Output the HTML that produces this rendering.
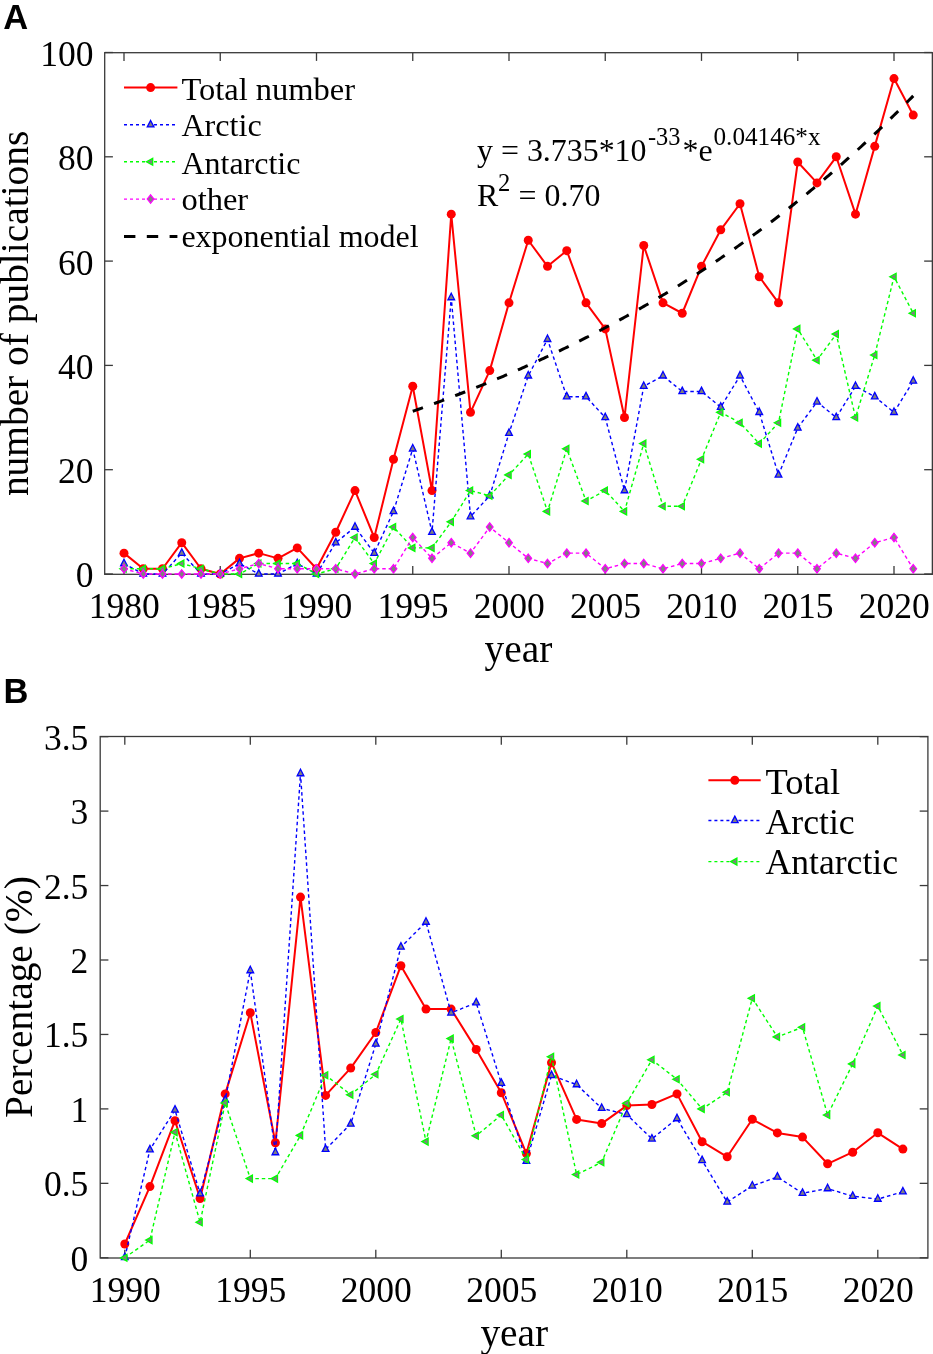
<!DOCTYPE html>
<html><head><meta charset="utf-8"><title>Polar publications</title>
<style>
html,body{margin:0;padding:0;background:#fff;}
body{width:933px;height:1354px;overflow:hidden;font-family:"Liberation Serif", serif;}
svg{display:block;will-change:transform;}
</style></head>
<body>
<svg width="933" height="1354" viewBox="0 0 933 1354">
<rect width="933" height="1354" fill="#fff"/>
<text x="3.2" y="28.8" font-family='"Liberation Sans", sans-serif' font-weight="bold" font-size="34.5" fill="#000">A</text>
<rect x="104.7" y="52.7" width="827.65" height="521.5999999999999" fill="none" stroke="#3a3a3a" stroke-width="1.3"/>
<line x1="124.00" y1="574.3" x2="124.00" y2="566.0999999999999" stroke="#3a3a3a" stroke-width="1.3"/>
<line x1="124.00" y1="52.7" x2="124.00" y2="60.900000000000006" stroke="#3a3a3a" stroke-width="1.3"/>
<text x="124.30" y="618.2" text-anchor="middle" font-family='"Liberation Serif", serif' font-size="35.5">1980</text>
<line x1="220.25" y1="574.3" x2="220.25" y2="566.0999999999999" stroke="#3a3a3a" stroke-width="1.3"/>
<line x1="220.25" y1="52.7" x2="220.25" y2="60.900000000000006" stroke="#3a3a3a" stroke-width="1.3"/>
<text x="220.55" y="618.2" text-anchor="middle" font-family='"Liberation Serif", serif' font-size="35.5">1985</text>
<line x1="316.50" y1="574.3" x2="316.50" y2="566.0999999999999" stroke="#3a3a3a" stroke-width="1.3"/>
<line x1="316.50" y1="52.7" x2="316.50" y2="60.900000000000006" stroke="#3a3a3a" stroke-width="1.3"/>
<text x="316.80" y="618.2" text-anchor="middle" font-family='"Liberation Serif", serif' font-size="35.5">1990</text>
<line x1="412.75" y1="574.3" x2="412.75" y2="566.0999999999999" stroke="#3a3a3a" stroke-width="1.3"/>
<line x1="412.75" y1="52.7" x2="412.75" y2="60.900000000000006" stroke="#3a3a3a" stroke-width="1.3"/>
<text x="413.05" y="618.2" text-anchor="middle" font-family='"Liberation Serif", serif' font-size="35.5">1995</text>
<line x1="509.00" y1="574.3" x2="509.00" y2="566.0999999999999" stroke="#3a3a3a" stroke-width="1.3"/>
<line x1="509.00" y1="52.7" x2="509.00" y2="60.900000000000006" stroke="#3a3a3a" stroke-width="1.3"/>
<text x="509.30" y="618.2" text-anchor="middle" font-family='"Liberation Serif", serif' font-size="35.5">2000</text>
<line x1="605.25" y1="574.3" x2="605.25" y2="566.0999999999999" stroke="#3a3a3a" stroke-width="1.3"/>
<line x1="605.25" y1="52.7" x2="605.25" y2="60.900000000000006" stroke="#3a3a3a" stroke-width="1.3"/>
<text x="605.55" y="618.2" text-anchor="middle" font-family='"Liberation Serif", serif' font-size="35.5">2005</text>
<line x1="701.50" y1="574.3" x2="701.50" y2="566.0999999999999" stroke="#3a3a3a" stroke-width="1.3"/>
<line x1="701.50" y1="52.7" x2="701.50" y2="60.900000000000006" stroke="#3a3a3a" stroke-width="1.3"/>
<text x="701.80" y="618.2" text-anchor="middle" font-family='"Liberation Serif", serif' font-size="35.5">2010</text>
<line x1="797.75" y1="574.3" x2="797.75" y2="566.0999999999999" stroke="#3a3a3a" stroke-width="1.3"/>
<line x1="797.75" y1="52.7" x2="797.75" y2="60.900000000000006" stroke="#3a3a3a" stroke-width="1.3"/>
<text x="798.05" y="618.2" text-anchor="middle" font-family='"Liberation Serif", serif' font-size="35.5">2015</text>
<line x1="894.00" y1="574.3" x2="894.00" y2="566.0999999999999" stroke="#3a3a3a" stroke-width="1.3"/>
<line x1="894.00" y1="52.7" x2="894.00" y2="60.900000000000006" stroke="#3a3a3a" stroke-width="1.3"/>
<text x="894.30" y="618.2" text-anchor="middle" font-family='"Liberation Serif", serif' font-size="35.5">2020</text>
<line x1="104.7" y1="574.00" x2="112.9" y2="574.00" stroke="#3a3a3a" stroke-width="1.3"/>
<line x1="932.35" y1="574.00" x2="924.15" y2="574.00" stroke="#3a3a3a" stroke-width="1.3"/>
<text x="93.5" y="587.40" text-anchor="end" font-family='"Liberation Serif", serif' font-size="35.5">0</text>
<line x1="104.7" y1="469.70" x2="112.9" y2="469.70" stroke="#3a3a3a" stroke-width="1.3"/>
<line x1="932.35" y1="469.70" x2="924.15" y2="469.70" stroke="#3a3a3a" stroke-width="1.3"/>
<text x="93.5" y="483.10" text-anchor="end" font-family='"Liberation Serif", serif' font-size="35.5">20</text>
<line x1="104.7" y1="365.40" x2="112.9" y2="365.40" stroke="#3a3a3a" stroke-width="1.3"/>
<line x1="932.35" y1="365.40" x2="924.15" y2="365.40" stroke="#3a3a3a" stroke-width="1.3"/>
<text x="93.5" y="378.80" text-anchor="end" font-family='"Liberation Serif", serif' font-size="35.5">40</text>
<line x1="104.7" y1="261.10" x2="112.9" y2="261.10" stroke="#3a3a3a" stroke-width="1.3"/>
<line x1="932.35" y1="261.10" x2="924.15" y2="261.10" stroke="#3a3a3a" stroke-width="1.3"/>
<text x="93.5" y="274.50" text-anchor="end" font-family='"Liberation Serif", serif' font-size="35.5">60</text>
<line x1="104.7" y1="156.80" x2="112.9" y2="156.80" stroke="#3a3a3a" stroke-width="1.3"/>
<line x1="932.35" y1="156.80" x2="924.15" y2="156.80" stroke="#3a3a3a" stroke-width="1.3"/>
<text x="93.5" y="170.20" text-anchor="end" font-family='"Liberation Serif", serif' font-size="35.5">80</text>
<line x1="104.7" y1="52.50" x2="112.9" y2="52.50" stroke="#3a3a3a" stroke-width="1.3"/>
<line x1="932.35" y1="52.50" x2="924.15" y2="52.50" stroke="#3a3a3a" stroke-width="1.3"/>
<text x="93.5" y="65.90" text-anchor="end" font-family='"Liberation Serif", serif' font-size="35.5">100</text>
<text x="518.5" y="662.3" text-anchor="middle" font-family='"Liberation Serif", serif' font-size="39.4">year</text>
<text transform="translate(28.0,313.4) rotate(-90)" text-anchor="middle" font-family='"Liberation Serif", serif' font-size="39.4">number of publications</text>
<polyline points="124.00,553.14 143.25,568.78 162.50,568.78 181.75,542.71 201.00,568.78 220.25,574.00 239.50,558.36 258.75,553.14 278.00,558.36 297.25,547.92 316.50,568.78 335.75,532.28 355.00,490.56 374.25,537.50 393.50,459.27 412.75,386.26 432.00,490.56 451.25,214.17 470.50,412.34 489.75,370.62 509.00,302.82 528.25,240.24 547.50,266.31 566.75,250.67 586.00,302.82 605.25,328.89 624.50,417.55 643.75,245.45 663.00,302.82 682.25,313.25 701.50,266.31 720.75,229.81 740.00,203.74 759.25,276.75 778.50,302.82 797.75,162.01 817.00,182.88 836.25,156.80 855.50,214.17 874.75,146.37 894.00,78.57 913.25,115.08" fill="none" stroke="#ff0000" stroke-width="2.0" stroke-linejoin="round"/>
<circle cx="124.00" cy="553.14" r="4.5" fill="#ff0000"/><circle cx="143.25" cy="568.78" r="4.5" fill="#ff0000"/><circle cx="162.50" cy="568.78" r="4.5" fill="#ff0000"/><circle cx="181.75" cy="542.71" r="4.5" fill="#ff0000"/><circle cx="201.00" cy="568.78" r="4.5" fill="#ff0000"/><circle cx="220.25" cy="574.00" r="4.5" fill="#ff0000"/><circle cx="239.50" cy="558.36" r="4.5" fill="#ff0000"/><circle cx="258.75" cy="553.14" r="4.5" fill="#ff0000"/><circle cx="278.00" cy="558.36" r="4.5" fill="#ff0000"/><circle cx="297.25" cy="547.92" r="4.5" fill="#ff0000"/><circle cx="316.50" cy="568.78" r="4.5" fill="#ff0000"/><circle cx="335.75" cy="532.28" r="4.5" fill="#ff0000"/><circle cx="355.00" cy="490.56" r="4.5" fill="#ff0000"/><circle cx="374.25" cy="537.50" r="4.5" fill="#ff0000"/><circle cx="393.50" cy="459.27" r="4.5" fill="#ff0000"/><circle cx="412.75" cy="386.26" r="4.5" fill="#ff0000"/><circle cx="432.00" cy="490.56" r="4.5" fill="#ff0000"/><circle cx="451.25" cy="214.17" r="4.5" fill="#ff0000"/><circle cx="470.50" cy="412.34" r="4.5" fill="#ff0000"/><circle cx="489.75" cy="370.62" r="4.5" fill="#ff0000"/><circle cx="509.00" cy="302.82" r="4.5" fill="#ff0000"/><circle cx="528.25" cy="240.24" r="4.5" fill="#ff0000"/><circle cx="547.50" cy="266.31" r="4.5" fill="#ff0000"/><circle cx="566.75" cy="250.67" r="4.5" fill="#ff0000"/><circle cx="586.00" cy="302.82" r="4.5" fill="#ff0000"/><circle cx="605.25" cy="328.89" r="4.5" fill="#ff0000"/><circle cx="624.50" cy="417.55" r="4.5" fill="#ff0000"/><circle cx="643.75" cy="245.45" r="4.5" fill="#ff0000"/><circle cx="663.00" cy="302.82" r="4.5" fill="#ff0000"/><circle cx="682.25" cy="313.25" r="4.5" fill="#ff0000"/><circle cx="701.50" cy="266.31" r="4.5" fill="#ff0000"/><circle cx="720.75" cy="229.81" r="4.5" fill="#ff0000"/><circle cx="740.00" cy="203.74" r="4.5" fill="#ff0000"/><circle cx="759.25" cy="276.75" r="4.5" fill="#ff0000"/><circle cx="778.50" cy="302.82" r="4.5" fill="#ff0000"/><circle cx="797.75" cy="162.01" r="4.5" fill="#ff0000"/><circle cx="817.00" cy="182.88" r="4.5" fill="#ff0000"/><circle cx="836.25" cy="156.80" r="4.5" fill="#ff0000"/><circle cx="855.50" cy="214.17" r="4.5" fill="#ff0000"/><circle cx="874.75" cy="146.37" r="4.5" fill="#ff0000"/><circle cx="894.00" cy="78.57" r="4.5" fill="#ff0000"/><circle cx="913.25" cy="115.08" r="4.5" fill="#ff0000"/>
<polyline points="124.00,563.57 143.25,574.00 162.50,574.00 181.75,553.14 201.00,574.00 220.25,574.00 239.50,563.57 258.75,574.00 278.00,574.00 297.25,563.57 316.50,574.00 335.75,542.71 355.00,527.07 374.25,553.14 393.50,511.42 412.75,448.84 432.00,532.28 451.25,297.61 470.50,516.63 489.75,495.77 509.00,433.19 528.25,375.83 547.50,339.33 566.75,396.69 586.00,396.69 605.25,417.55 624.50,490.56 643.75,386.26 663.00,375.83 682.25,391.48 701.50,391.48 720.75,407.12 740.00,375.83 759.25,412.34 778.50,474.92 797.75,427.98 817.00,401.90 836.25,417.55 855.50,386.26 874.75,396.69 894.00,412.34 913.25,381.05" fill="none" stroke="#0000ff" stroke-width="1.4" stroke-dasharray="3.5,2.9" stroke-linejoin="round"/>
<path d="M124.00,559.24 L127.35,565.74 L120.65,565.74 Z" fill="#808080" stroke="#0000ff" stroke-width="1.3" stroke-linejoin="miter"/><path d="M143.25,569.67 L146.60,576.17 L139.90,576.17 Z" fill="#808080" stroke="#0000ff" stroke-width="1.3" stroke-linejoin="miter"/><path d="M162.50,569.67 L165.85,576.17 L159.15,576.17 Z" fill="#808080" stroke="#0000ff" stroke-width="1.3" stroke-linejoin="miter"/><path d="M181.75,548.81 L185.10,555.31 L178.40,555.31 Z" fill="#808080" stroke="#0000ff" stroke-width="1.3" stroke-linejoin="miter"/><path d="M201.00,569.67 L204.35,576.17 L197.65,576.17 Z" fill="#808080" stroke="#0000ff" stroke-width="1.3" stroke-linejoin="miter"/><path d="M220.25,569.67 L223.60,576.17 L216.90,576.17 Z" fill="#808080" stroke="#0000ff" stroke-width="1.3" stroke-linejoin="miter"/><path d="M239.50,559.24 L242.85,565.74 L236.15,565.74 Z" fill="#808080" stroke="#0000ff" stroke-width="1.3" stroke-linejoin="miter"/><path d="M258.75,569.67 L262.10,576.17 L255.40,576.17 Z" fill="#808080" stroke="#0000ff" stroke-width="1.3" stroke-linejoin="miter"/><path d="M278.00,569.67 L281.35,576.17 L274.65,576.17 Z" fill="#808080" stroke="#0000ff" stroke-width="1.3" stroke-linejoin="miter"/><path d="M297.25,559.24 L300.60,565.74 L293.90,565.74 Z" fill="#808080" stroke="#0000ff" stroke-width="1.3" stroke-linejoin="miter"/><path d="M316.50,569.67 L319.85,576.17 L313.15,576.17 Z" fill="#808080" stroke="#0000ff" stroke-width="1.3" stroke-linejoin="miter"/><path d="M335.75,538.38 L339.10,544.88 L332.40,544.88 Z" fill="#808080" stroke="#0000ff" stroke-width="1.3" stroke-linejoin="miter"/><path d="M355.00,522.73 L358.35,529.23 L351.65,529.23 Z" fill="#808080" stroke="#0000ff" stroke-width="1.3" stroke-linejoin="miter"/><path d="M374.25,548.81 L377.60,555.31 L370.90,555.31 Z" fill="#808080" stroke="#0000ff" stroke-width="1.3" stroke-linejoin="miter"/><path d="M393.50,507.09 L396.85,513.59 L390.15,513.59 Z" fill="#808080" stroke="#0000ff" stroke-width="1.3" stroke-linejoin="miter"/><path d="M412.75,444.51 L416.10,451.01 L409.40,451.01 Z" fill="#808080" stroke="#0000ff" stroke-width="1.3" stroke-linejoin="miter"/><path d="M432.00,527.95 L435.35,534.45 L428.65,534.45 Z" fill="#808080" stroke="#0000ff" stroke-width="1.3" stroke-linejoin="miter"/><path d="M451.25,293.27 L454.60,299.77 L447.90,299.77 Z" fill="#808080" stroke="#0000ff" stroke-width="1.3" stroke-linejoin="miter"/><path d="M470.50,512.30 L473.85,518.80 L467.15,518.80 Z" fill="#808080" stroke="#0000ff" stroke-width="1.3" stroke-linejoin="miter"/><path d="M489.75,491.44 L493.10,497.94 L486.40,497.94 Z" fill="#808080" stroke="#0000ff" stroke-width="1.3" stroke-linejoin="miter"/><path d="M509.00,428.86 L512.35,435.36 L505.65,435.36 Z" fill="#808080" stroke="#0000ff" stroke-width="1.3" stroke-linejoin="miter"/><path d="M528.25,371.50 L531.60,378.00 L524.90,378.00 Z" fill="#808080" stroke="#0000ff" stroke-width="1.3" stroke-linejoin="miter"/><path d="M547.50,334.99 L550.85,341.49 L544.15,341.49 Z" fill="#808080" stroke="#0000ff" stroke-width="1.3" stroke-linejoin="miter"/><path d="M566.75,392.36 L570.10,398.86 L563.40,398.86 Z" fill="#808080" stroke="#0000ff" stroke-width="1.3" stroke-linejoin="miter"/><path d="M586.00,392.36 L589.35,398.86 L582.65,398.86 Z" fill="#808080" stroke="#0000ff" stroke-width="1.3" stroke-linejoin="miter"/><path d="M605.25,413.22 L608.60,419.72 L601.90,419.72 Z" fill="#808080" stroke="#0000ff" stroke-width="1.3" stroke-linejoin="miter"/><path d="M624.50,486.23 L627.85,492.73 L621.15,492.73 Z" fill="#808080" stroke="#0000ff" stroke-width="1.3" stroke-linejoin="miter"/><path d="M643.75,381.93 L647.10,388.43 L640.40,388.43 Z" fill="#808080" stroke="#0000ff" stroke-width="1.3" stroke-linejoin="miter"/><path d="M663.00,371.50 L666.35,378.00 L659.65,378.00 Z" fill="#808080" stroke="#0000ff" stroke-width="1.3" stroke-linejoin="miter"/><path d="M682.25,387.14 L685.60,393.64 L678.90,393.64 Z" fill="#808080" stroke="#0000ff" stroke-width="1.3" stroke-linejoin="miter"/><path d="M701.50,387.14 L704.85,393.64 L698.15,393.64 Z" fill="#808080" stroke="#0000ff" stroke-width="1.3" stroke-linejoin="miter"/><path d="M720.75,402.79 L724.10,409.29 L717.40,409.29 Z" fill="#808080" stroke="#0000ff" stroke-width="1.3" stroke-linejoin="miter"/><path d="M740.00,371.50 L743.35,378.00 L736.65,378.00 Z" fill="#808080" stroke="#0000ff" stroke-width="1.3" stroke-linejoin="miter"/><path d="M759.25,408.00 L762.60,414.50 L755.90,414.50 Z" fill="#808080" stroke="#0000ff" stroke-width="1.3" stroke-linejoin="miter"/><path d="M778.50,470.58 L781.85,477.08 L775.15,477.08 Z" fill="#808080" stroke="#0000ff" stroke-width="1.3" stroke-linejoin="miter"/><path d="M797.75,423.65 L801.10,430.15 L794.40,430.15 Z" fill="#808080" stroke="#0000ff" stroke-width="1.3" stroke-linejoin="miter"/><path d="M817.00,397.57 L820.35,404.07 L813.65,404.07 Z" fill="#808080" stroke="#0000ff" stroke-width="1.3" stroke-linejoin="miter"/><path d="M836.25,413.22 L839.60,419.72 L832.90,419.72 Z" fill="#808080" stroke="#0000ff" stroke-width="1.3" stroke-linejoin="miter"/><path d="M855.50,381.93 L858.85,388.43 L852.15,388.43 Z" fill="#808080" stroke="#0000ff" stroke-width="1.3" stroke-linejoin="miter"/><path d="M874.75,392.36 L878.10,398.86 L871.40,398.86 Z" fill="#808080" stroke="#0000ff" stroke-width="1.3" stroke-linejoin="miter"/><path d="M894.00,408.00 L897.35,414.50 L890.65,414.50 Z" fill="#808080" stroke="#0000ff" stroke-width="1.3" stroke-linejoin="miter"/><path d="M913.25,376.71 L916.60,383.21 L909.90,383.21 Z" fill="#808080" stroke="#0000ff" stroke-width="1.3" stroke-linejoin="miter"/>
<polyline points="124.00,568.78 143.25,568.78 162.50,568.78 181.75,563.57 201.00,568.78 220.25,574.00 239.50,574.00 258.75,563.57 278.00,563.57 297.25,563.57 316.50,574.00 335.75,568.78 355.00,537.50 374.25,563.57 393.50,527.07 412.75,547.92 432.00,547.92 451.25,521.85 470.50,490.56 489.75,495.77 509.00,474.92 528.25,454.06 547.50,511.42 566.75,448.84 586.00,500.99 605.25,490.56 624.50,511.42 643.75,443.62 663.00,506.20 682.25,506.20 701.50,459.27 720.75,412.34 740.00,422.76 759.25,443.62 778.50,422.76 797.75,328.89 817.00,360.19 836.25,334.11 855.50,417.55 874.75,354.97 894.00,276.75 913.25,313.25" fill="none" stroke="#00ff00" stroke-width="1.4" stroke-dasharray="3.5,2.9" stroke-linejoin="round"/>
<path d="M119.80,568.78 L126.10,565.33 L126.10,572.24 Z" fill="#808080" stroke="#00ff00" stroke-width="1.3" stroke-linejoin="miter"/><path d="M139.05,568.78 L145.35,565.33 L145.35,572.24 Z" fill="#808080" stroke="#00ff00" stroke-width="1.3" stroke-linejoin="miter"/><path d="M158.30,568.78 L164.60,565.33 L164.60,572.24 Z" fill="#808080" stroke="#00ff00" stroke-width="1.3" stroke-linejoin="miter"/><path d="M177.55,563.57 L183.85,560.12 L183.85,567.02 Z" fill="#808080" stroke="#00ff00" stroke-width="1.3" stroke-linejoin="miter"/><path d="M196.80,568.78 L203.10,565.33 L203.10,572.24 Z" fill="#808080" stroke="#00ff00" stroke-width="1.3" stroke-linejoin="miter"/><path d="M216.05,574.00 L222.35,570.55 L222.35,577.45 Z" fill="#808080" stroke="#00ff00" stroke-width="1.3" stroke-linejoin="miter"/><path d="M235.30,574.00 L241.60,570.55 L241.60,577.45 Z" fill="#808080" stroke="#00ff00" stroke-width="1.3" stroke-linejoin="miter"/><path d="M254.55,563.57 L260.85,560.12 L260.85,567.02 Z" fill="#808080" stroke="#00ff00" stroke-width="1.3" stroke-linejoin="miter"/><path d="M273.80,563.57 L280.10,560.12 L280.10,567.02 Z" fill="#808080" stroke="#00ff00" stroke-width="1.3" stroke-linejoin="miter"/><path d="M293.05,563.57 L299.35,560.12 L299.35,567.02 Z" fill="#808080" stroke="#00ff00" stroke-width="1.3" stroke-linejoin="miter"/><path d="M312.30,574.00 L318.60,570.55 L318.60,577.45 Z" fill="#808080" stroke="#00ff00" stroke-width="1.3" stroke-linejoin="miter"/><path d="M331.55,568.78 L337.85,565.33 L337.85,572.24 Z" fill="#808080" stroke="#00ff00" stroke-width="1.3" stroke-linejoin="miter"/><path d="M350.80,537.50 L357.10,534.04 L357.10,540.95 Z" fill="#808080" stroke="#00ff00" stroke-width="1.3" stroke-linejoin="miter"/><path d="M370.05,563.57 L376.35,560.12 L376.35,567.02 Z" fill="#808080" stroke="#00ff00" stroke-width="1.3" stroke-linejoin="miter"/><path d="M389.30,527.07 L395.60,523.62 L395.60,530.52 Z" fill="#808080" stroke="#00ff00" stroke-width="1.3" stroke-linejoin="miter"/><path d="M408.55,547.92 L414.85,544.47 L414.85,551.38 Z" fill="#808080" stroke="#00ff00" stroke-width="1.3" stroke-linejoin="miter"/><path d="M427.80,547.92 L434.10,544.47 L434.10,551.38 Z" fill="#808080" stroke="#00ff00" stroke-width="1.3" stroke-linejoin="miter"/><path d="M447.05,521.85 L453.35,518.40 L453.35,525.30 Z" fill="#808080" stroke="#00ff00" stroke-width="1.3" stroke-linejoin="miter"/><path d="M466.30,490.56 L472.60,487.11 L472.60,494.01 Z" fill="#808080" stroke="#00ff00" stroke-width="1.3" stroke-linejoin="miter"/><path d="M485.55,495.77 L491.85,492.32 L491.85,499.22 Z" fill="#808080" stroke="#00ff00" stroke-width="1.3" stroke-linejoin="miter"/><path d="M504.80,474.92 L511.10,471.47 L511.10,478.37 Z" fill="#808080" stroke="#00ff00" stroke-width="1.3" stroke-linejoin="miter"/><path d="M524.05,454.06 L530.35,450.61 L530.35,457.50 Z" fill="#808080" stroke="#00ff00" stroke-width="1.3" stroke-linejoin="miter"/><path d="M543.30,511.42 L549.60,507.97 L549.60,514.87 Z" fill="#808080" stroke="#00ff00" stroke-width="1.3" stroke-linejoin="miter"/><path d="M562.55,448.84 L568.85,445.39 L568.85,452.29 Z" fill="#808080" stroke="#00ff00" stroke-width="1.3" stroke-linejoin="miter"/><path d="M581.80,500.99 L588.10,497.54 L588.10,504.44 Z" fill="#808080" stroke="#00ff00" stroke-width="1.3" stroke-linejoin="miter"/><path d="M601.05,490.56 L607.35,487.11 L607.35,494.01 Z" fill="#808080" stroke="#00ff00" stroke-width="1.3" stroke-linejoin="miter"/><path d="M620.30,511.42 L626.60,507.97 L626.60,514.87 Z" fill="#808080" stroke="#00ff00" stroke-width="1.3" stroke-linejoin="miter"/><path d="M639.55,443.62 L645.85,440.18 L645.85,447.07 Z" fill="#808080" stroke="#00ff00" stroke-width="1.3" stroke-linejoin="miter"/><path d="M658.80,506.20 L665.10,502.75 L665.10,509.65 Z" fill="#808080" stroke="#00ff00" stroke-width="1.3" stroke-linejoin="miter"/><path d="M678.05,506.20 L684.35,502.75 L684.35,509.65 Z" fill="#808080" stroke="#00ff00" stroke-width="1.3" stroke-linejoin="miter"/><path d="M697.30,459.27 L703.60,455.82 L703.60,462.72 Z" fill="#808080" stroke="#00ff00" stroke-width="1.3" stroke-linejoin="miter"/><path d="M716.55,412.34 L722.85,408.89 L722.85,415.79 Z" fill="#808080" stroke="#00ff00" stroke-width="1.3" stroke-linejoin="miter"/><path d="M735.80,422.76 L742.10,419.31 L742.10,426.21 Z" fill="#808080" stroke="#00ff00" stroke-width="1.3" stroke-linejoin="miter"/><path d="M755.05,443.62 L761.35,440.18 L761.35,447.07 Z" fill="#808080" stroke="#00ff00" stroke-width="1.3" stroke-linejoin="miter"/><path d="M774.30,422.76 L780.60,419.31 L780.60,426.21 Z" fill="#808080" stroke="#00ff00" stroke-width="1.3" stroke-linejoin="miter"/><path d="M793.55,328.89 L799.85,325.44 L799.85,332.34 Z" fill="#808080" stroke="#00ff00" stroke-width="1.3" stroke-linejoin="miter"/><path d="M812.80,360.19 L819.10,356.74 L819.10,363.63 Z" fill="#808080" stroke="#00ff00" stroke-width="1.3" stroke-linejoin="miter"/><path d="M832.05,334.11 L838.35,330.66 L838.35,337.56 Z" fill="#808080" stroke="#00ff00" stroke-width="1.3" stroke-linejoin="miter"/><path d="M851.30,417.55 L857.60,414.10 L857.60,421.00 Z" fill="#808080" stroke="#00ff00" stroke-width="1.3" stroke-linejoin="miter"/><path d="M870.55,354.97 L876.85,351.52 L876.85,358.42 Z" fill="#808080" stroke="#00ff00" stroke-width="1.3" stroke-linejoin="miter"/><path d="M889.80,276.75 L896.10,273.30 L896.10,280.19 Z" fill="#808080" stroke="#00ff00" stroke-width="1.3" stroke-linejoin="miter"/><path d="M909.05,313.25 L915.35,309.80 L915.35,316.70 Z" fill="#808080" stroke="#00ff00" stroke-width="1.3" stroke-linejoin="miter"/>
<polyline points="124.00,568.78 143.25,574.00 162.50,574.00 181.75,574.00 201.00,574.00 220.25,574.00 239.50,568.78 258.75,563.57 278.00,568.78 297.25,568.78 316.50,568.78 335.75,568.78 355.00,574.00 374.25,568.78 393.50,568.78 412.75,537.50 432.00,558.36 451.25,542.71 470.50,553.14 489.75,527.07 509.00,542.71 528.25,558.36 547.50,563.57 566.75,553.14 586.00,553.14 605.25,568.78 624.50,563.57 643.75,563.57 663.00,568.78 682.25,563.57 701.50,563.57 720.75,558.36 740.00,553.14 759.25,568.78 778.50,553.14 797.75,553.14 817.00,568.78 836.25,553.14 855.50,558.36 874.75,542.71 894.00,537.50 913.25,568.78" fill="none" stroke="#ff00ff" stroke-width="1.4" stroke-dasharray="3.5,2.9" stroke-linejoin="round"/>
<path d="M124.00,564.58 L127.30,568.78 L124.00,572.99 L120.70,568.78 Z" fill="#808080" stroke="#ff00ff" stroke-width="1.3"/><path d="M143.25,569.80 L146.55,574.00 L143.25,578.20 L139.95,574.00 Z" fill="#808080" stroke="#ff00ff" stroke-width="1.3"/><path d="M162.50,569.80 L165.80,574.00 L162.50,578.20 L159.20,574.00 Z" fill="#808080" stroke="#ff00ff" stroke-width="1.3"/><path d="M181.75,569.80 L185.05,574.00 L181.75,578.20 L178.45,574.00 Z" fill="#808080" stroke="#ff00ff" stroke-width="1.3"/><path d="M201.00,569.80 L204.30,574.00 L201.00,578.20 L197.70,574.00 Z" fill="#808080" stroke="#ff00ff" stroke-width="1.3"/><path d="M220.25,569.80 L223.55,574.00 L220.25,578.20 L216.95,574.00 Z" fill="#808080" stroke="#ff00ff" stroke-width="1.3"/><path d="M239.50,564.58 L242.80,568.78 L239.50,572.99 L236.20,568.78 Z" fill="#808080" stroke="#ff00ff" stroke-width="1.3"/><path d="M258.75,559.37 L262.05,563.57 L258.75,567.77 L255.45,563.57 Z" fill="#808080" stroke="#ff00ff" stroke-width="1.3"/><path d="M278.00,564.58 L281.30,568.78 L278.00,572.99 L274.70,568.78 Z" fill="#808080" stroke="#ff00ff" stroke-width="1.3"/><path d="M297.25,564.58 L300.55,568.78 L297.25,572.99 L293.95,568.78 Z" fill="#808080" stroke="#ff00ff" stroke-width="1.3"/><path d="M316.50,564.58 L319.80,568.78 L316.50,572.99 L313.20,568.78 Z" fill="#808080" stroke="#ff00ff" stroke-width="1.3"/><path d="M335.75,564.58 L339.05,568.78 L335.75,572.99 L332.45,568.78 Z" fill="#808080" stroke="#ff00ff" stroke-width="1.3"/><path d="M355.00,569.80 L358.30,574.00 L355.00,578.20 L351.70,574.00 Z" fill="#808080" stroke="#ff00ff" stroke-width="1.3"/><path d="M374.25,564.58 L377.55,568.78 L374.25,572.99 L370.95,568.78 Z" fill="#808080" stroke="#ff00ff" stroke-width="1.3"/><path d="M393.50,564.58 L396.80,568.78 L393.50,572.99 L390.20,568.78 Z" fill="#808080" stroke="#ff00ff" stroke-width="1.3"/><path d="M412.75,533.29 L416.05,537.50 L412.75,541.70 L409.45,537.50 Z" fill="#808080" stroke="#ff00ff" stroke-width="1.3"/><path d="M432.00,554.15 L435.30,558.36 L432.00,562.56 L428.70,558.36 Z" fill="#808080" stroke="#ff00ff" stroke-width="1.3"/><path d="M451.25,538.51 L454.55,542.71 L451.25,546.91 L447.95,542.71 Z" fill="#808080" stroke="#ff00ff" stroke-width="1.3"/><path d="M470.50,548.94 L473.80,553.14 L470.50,557.34 L467.20,553.14 Z" fill="#808080" stroke="#ff00ff" stroke-width="1.3"/><path d="M489.75,522.87 L493.05,527.07 L489.75,531.27 L486.45,527.07 Z" fill="#808080" stroke="#ff00ff" stroke-width="1.3"/><path d="M509.00,538.51 L512.30,542.71 L509.00,546.91 L505.70,542.71 Z" fill="#808080" stroke="#ff00ff" stroke-width="1.3"/><path d="M528.25,554.15 L531.55,558.36 L528.25,562.56 L524.95,558.36 Z" fill="#808080" stroke="#ff00ff" stroke-width="1.3"/><path d="M547.50,559.37 L550.80,563.57 L547.50,567.77 L544.20,563.57 Z" fill="#808080" stroke="#ff00ff" stroke-width="1.3"/><path d="M566.75,548.94 L570.05,553.14 L566.75,557.34 L563.45,553.14 Z" fill="#808080" stroke="#ff00ff" stroke-width="1.3"/><path d="M586.00,548.94 L589.30,553.14 L586.00,557.34 L582.70,553.14 Z" fill="#808080" stroke="#ff00ff" stroke-width="1.3"/><path d="M605.25,564.58 L608.55,568.78 L605.25,572.99 L601.95,568.78 Z" fill="#808080" stroke="#ff00ff" stroke-width="1.3"/><path d="M624.50,559.37 L627.80,563.57 L624.50,567.77 L621.20,563.57 Z" fill="#808080" stroke="#ff00ff" stroke-width="1.3"/><path d="M643.75,559.37 L647.05,563.57 L643.75,567.77 L640.45,563.57 Z" fill="#808080" stroke="#ff00ff" stroke-width="1.3"/><path d="M663.00,564.58 L666.30,568.78 L663.00,572.99 L659.70,568.78 Z" fill="#808080" stroke="#ff00ff" stroke-width="1.3"/><path d="M682.25,559.37 L685.55,563.57 L682.25,567.77 L678.95,563.57 Z" fill="#808080" stroke="#ff00ff" stroke-width="1.3"/><path d="M701.50,559.37 L704.80,563.57 L701.50,567.77 L698.20,563.57 Z" fill="#808080" stroke="#ff00ff" stroke-width="1.3"/><path d="M720.75,554.15 L724.05,558.36 L720.75,562.56 L717.45,558.36 Z" fill="#808080" stroke="#ff00ff" stroke-width="1.3"/><path d="M740.00,548.94 L743.30,553.14 L740.00,557.34 L736.70,553.14 Z" fill="#808080" stroke="#ff00ff" stroke-width="1.3"/><path d="M759.25,564.58 L762.55,568.78 L759.25,572.99 L755.95,568.78 Z" fill="#808080" stroke="#ff00ff" stroke-width="1.3"/><path d="M778.50,548.94 L781.80,553.14 L778.50,557.34 L775.20,553.14 Z" fill="#808080" stroke="#ff00ff" stroke-width="1.3"/><path d="M797.75,548.94 L801.05,553.14 L797.75,557.34 L794.45,553.14 Z" fill="#808080" stroke="#ff00ff" stroke-width="1.3"/><path d="M817.00,564.58 L820.30,568.78 L817.00,572.99 L813.70,568.78 Z" fill="#808080" stroke="#ff00ff" stroke-width="1.3"/><path d="M836.25,548.94 L839.55,553.14 L836.25,557.34 L832.95,553.14 Z" fill="#808080" stroke="#ff00ff" stroke-width="1.3"/><path d="M855.50,554.15 L858.80,558.36 L855.50,562.56 L852.20,558.36 Z" fill="#808080" stroke="#ff00ff" stroke-width="1.3"/><path d="M874.75,538.51 L878.05,542.71 L874.75,546.91 L871.45,542.71 Z" fill="#808080" stroke="#ff00ff" stroke-width="1.3"/><path d="M894.00,533.29 L897.30,537.50 L894.00,541.70 L890.70,537.50 Z" fill="#808080" stroke="#ff00ff" stroke-width="1.3"/><path d="M913.25,564.58 L916.55,568.78 L913.25,572.99 L909.95,568.78 Z" fill="#808080" stroke="#ff00ff" stroke-width="1.3"/>
<polyline points="412.75,411.29 414.67,410.62 416.60,409.94 418.52,409.26 420.45,408.57 422.38,407.88 424.30,407.19 426.23,406.50 428.15,405.80 430.08,405.11 432.00,404.40 433.92,403.70 435.85,402.99 437.77,402.28 439.70,401.57 441.62,400.85 443.55,400.13 445.48,399.41 447.40,398.68 449.33,397.96 451.25,397.23 453.17,396.49 455.10,395.75 457.02,395.01 458.95,394.27 460.88,393.52 462.80,392.77 464.73,392.02 466.65,391.26 468.58,390.50 470.50,389.74 472.42,388.98 474.35,388.21 476.27,387.44 478.20,386.66 480.12,385.88 482.05,385.10 483.98,384.32 485.90,383.53 487.83,382.74 489.75,381.94 491.67,381.14 493.60,380.34 495.52,379.54 497.45,378.73 499.38,377.92 501.30,377.10 503.23,376.29 505.15,375.47 507.08,374.64 509.00,373.81 510.92,372.98 512.85,372.15 514.77,371.31 516.70,370.46 518.62,369.62 520.55,368.77 522.48,367.92 524.40,367.06 526.33,366.20 528.25,365.34 530.17,364.47 532.10,363.60 534.02,362.73 535.95,361.85 537.88,360.97 539.80,360.08 541.73,359.19 543.65,358.30 545.58,357.40 547.50,356.50 549.42,355.60 551.35,354.69 553.27,353.78 555.20,352.87 557.12,351.95 559.05,351.03 560.98,350.10 562.90,349.17 564.83,348.24 566.75,347.30 568.67,346.36 570.60,345.41 572.52,344.46 574.45,343.51 576.38,342.55 578.30,341.59 580.23,340.62 582.15,339.65 584.08,338.68 586.00,337.70 587.92,336.72 589.85,335.73 591.77,334.74 593.70,333.75 595.62,332.75 597.55,331.75 599.48,330.74 601.40,329.73 603.33,328.72 605.25,327.70 607.17,326.68 609.10,325.65 611.02,324.62 612.95,323.58 614.88,322.54 616.80,321.49 618.73,320.45 620.65,319.39 622.58,318.33 624.50,317.27 626.42,316.21 628.35,315.13 630.27,314.06 632.20,312.98 634.12,311.89 636.05,310.81 637.98,309.71 639.90,308.61 641.83,307.51 643.75,306.40 645.67,305.29 647.60,304.18 649.52,303.06 651.45,301.93 653.38,300.80 655.30,299.66 657.23,298.52 659.15,297.38 661.08,296.23 663.00,295.08 664.92,293.92 666.85,292.75 668.77,291.59 670.70,290.41 672.62,289.23 674.55,288.05 676.48,286.86 678.40,285.67 680.33,284.47 682.25,283.27 684.17,282.06 686.10,280.85 688.02,279.63 689.95,278.41 691.88,277.18 693.80,275.95 695.73,274.71 697.65,273.46 699.58,272.22 701.50,270.96 703.42,269.70 705.35,268.44 707.27,267.17 709.20,265.89 711.12,264.61 713.05,263.33 714.98,262.04 716.90,260.74 718.83,259.44 720.75,258.13 722.67,256.82 724.60,255.50 726.52,254.18 728.45,252.85 730.38,251.52 732.30,250.18 734.23,248.83 736.15,247.48 738.08,246.13 740.00,244.76 741.92,243.40 743.85,242.02 745.77,240.64 747.70,239.26 749.62,237.87 751.55,236.47 753.48,235.07 755.40,233.66 757.33,232.25 759.25,230.83 761.17,229.40 763.10,227.97 765.02,226.53 766.95,225.09 768.88,223.64 770.80,222.18 772.73,220.72 774.65,219.25 776.58,217.78 778.50,216.30 780.42,214.81 782.35,213.32 784.27,211.82 786.20,210.32 788.12,208.81 790.05,207.29 791.98,205.77 793.90,204.24 795.83,202.70 797.75,201.16 799.67,199.61 801.60,198.05 803.52,196.49 805.45,194.92 807.38,193.35 809.30,191.77 811.23,190.18 813.15,188.58 815.08,186.98 817.00,185.37 818.92,183.76 820.85,182.14 822.77,180.51 824.70,178.88 826.62,177.23 828.55,175.59 830.48,173.93 832.40,172.27 834.33,170.60 836.25,168.92 838.17,167.24 840.10,165.55 842.02,163.85 843.95,162.15 845.88,160.44 847.80,158.72 849.73,156.99 851.65,155.26 853.58,153.52 855.50,151.78 857.42,150.02 859.35,148.26 861.27,146.49 863.20,144.71 865.12,142.93 867.05,141.14 868.98,139.34 870.90,137.54 872.83,135.72 874.75,133.90 876.67,132.07 878.60,130.24 880.52,128.39 882.45,126.54 884.38,124.68 886.30,122.82 888.23,120.94 890.15,119.06 892.08,117.17 894.00,115.27 895.92,113.37 897.85,111.45 899.77,109.53 901.70,107.60 903.62,105.66 905.55,103.72 907.48,101.76 909.40,99.80 911.33,97.83 913.25,95.85" fill="none" stroke="#000" stroke-width="3.0" stroke-dasharray="10.8,11.8" stroke-linejoin="round"/>
<line x1="124.0" y1="87.6" x2="177.4" y2="87.6" stroke="#ff0000" stroke-width="2"/><circle cx="150.60" cy="87.60" r="4.5" fill="#ff0000"/>
<line x1="124.0" y1="124.8" x2="177.4" y2="124.8" stroke="#0000ff" stroke-width="1.4" stroke-dasharray="3.0,3.0"/><path d="M150.60,120.47 L153.95,126.97 L147.25,126.97 Z" fill="#808080" stroke="#0000ff" stroke-width="1.3" stroke-linejoin="miter"/>
<line x1="124.0" y1="161.8" x2="177.4" y2="161.8" stroke="#00ff00" stroke-width="1.4" stroke-dasharray="3.0,3.0"/><path d="M146.40,161.80 L152.70,158.35 L152.70,165.25 Z" fill="#808080" stroke="#00ff00" stroke-width="1.3" stroke-linejoin="miter"/>
<line x1="124.0" y1="199.1" x2="177.4" y2="199.1" stroke="#ff00ff" stroke-width="1.4" stroke-dasharray="3.0,3.0"/><path d="M150.60,194.90 L153.90,199.10 L150.60,203.30 L147.30,199.10 Z" fill="#808080" stroke="#ff00ff" stroke-width="1.3"/>
<line x1="124.0" y1="236.4" x2="177.4" y2="236.4" stroke="#000" stroke-width="3" stroke-dasharray="11.4,11.4"/>
<text x="181.4" y="99.50" font-family='"Liberation Serif", serif' font-size="32.5">Total number</text>
<text x="181.4" y="136.40" font-family='"Liberation Serif", serif' font-size="32.15">Arctic</text>
<text x="181.4" y="173.60" font-family='"Liberation Serif", serif' font-size="32.0">Antarctic</text>
<text x="181.4" y="210.30" font-family='"Liberation Serif", serif' font-size="32.5">other</text>
<text x="181.4" y="247.20" font-family='"Liberation Serif", serif' font-size="32.0">exponential model</text>
<text x="477" y="160.8" font-family='"Liberation Serif", serif' font-size="31.9">y = 3.735*10</text>
<text x="648" y="144.6" font-family='"Liberation Serif", serif' font-size="24.4">-33</text>
<text x="682.5" y="160.8" font-family='"Liberation Serif", serif' font-size="31.9">*e</text>
<text x="713.5" y="144.6" font-family='"Liberation Serif", serif' font-size="25.2">0.04146*x</text>
<text x="477" y="206.4" font-family='"Liberation Serif", serif' font-size="31.9">R</text>
<text x="498" y="191.4" font-family='"Liberation Serif", serif' font-size="24.6">2</text>
<text x="518.6" y="206.4" font-family='"Liberation Serif", serif' font-size="31.9">= 0.70</text>
<text x="3.4" y="703.2" font-family='"Liberation Sans", sans-serif' font-weight="bold" font-size="34.5" fill="#000">B</text>
<rect x="100.2" y="736.5" width="827.6999999999999" height="521.5" fill="none" stroke="#3a3a3a" stroke-width="1.3"/>
<line x1="124.80" y1="1258.0" x2="124.80" y2="1249.8" stroke="#3a3a3a" stroke-width="1.3"/>
<line x1="124.80" y1="736.5" x2="124.80" y2="744.7" stroke="#3a3a3a" stroke-width="1.3"/>
<text x="125.30" y="1302.2" text-anchor="middle" font-family='"Liberation Serif", serif' font-size="35.5">1990</text>
<line x1="250.30" y1="1258.0" x2="250.30" y2="1249.8" stroke="#3a3a3a" stroke-width="1.3"/>
<line x1="250.30" y1="736.5" x2="250.30" y2="744.7" stroke="#3a3a3a" stroke-width="1.3"/>
<text x="250.80" y="1302.2" text-anchor="middle" font-family='"Liberation Serif", serif' font-size="35.5">1995</text>
<line x1="375.80" y1="1258.0" x2="375.80" y2="1249.8" stroke="#3a3a3a" stroke-width="1.3"/>
<line x1="375.80" y1="736.5" x2="375.80" y2="744.7" stroke="#3a3a3a" stroke-width="1.3"/>
<text x="376.30" y="1302.2" text-anchor="middle" font-family='"Liberation Serif", serif' font-size="35.5">2000</text>
<line x1="501.30" y1="1258.0" x2="501.30" y2="1249.8" stroke="#3a3a3a" stroke-width="1.3"/>
<line x1="501.30" y1="736.5" x2="501.30" y2="744.7" stroke="#3a3a3a" stroke-width="1.3"/>
<text x="501.80" y="1302.2" text-anchor="middle" font-family='"Liberation Serif", serif' font-size="35.5">2005</text>
<line x1="626.80" y1="1258.0" x2="626.80" y2="1249.8" stroke="#3a3a3a" stroke-width="1.3"/>
<line x1="626.80" y1="736.5" x2="626.80" y2="744.7" stroke="#3a3a3a" stroke-width="1.3"/>
<text x="627.30" y="1302.2" text-anchor="middle" font-family='"Liberation Serif", serif' font-size="35.5">2010</text>
<line x1="752.30" y1="1258.0" x2="752.30" y2="1249.8" stroke="#3a3a3a" stroke-width="1.3"/>
<line x1="752.30" y1="736.5" x2="752.30" y2="744.7" stroke="#3a3a3a" stroke-width="1.3"/>
<text x="752.80" y="1302.2" text-anchor="middle" font-family='"Liberation Serif", serif' font-size="35.5">2015</text>
<line x1="877.80" y1="1258.0" x2="877.80" y2="1249.8" stroke="#3a3a3a" stroke-width="1.3"/>
<line x1="877.80" y1="736.5" x2="877.80" y2="744.7" stroke="#3a3a3a" stroke-width="1.3"/>
<text x="878.30" y="1302.2" text-anchor="middle" font-family='"Liberation Serif", serif' font-size="35.5">2020</text>
<line x1="100.2" y1="1257.80" x2="108.4" y2="1257.80" stroke="#3a3a3a" stroke-width="1.3"/>
<line x1="927.9" y1="1257.80" x2="919.6999999999999" y2="1257.80" stroke="#3a3a3a" stroke-width="1.3"/>
<text x="88.3" y="1270.80" text-anchor="end" font-family='"Liberation Serif", serif' font-size="35.5">0</text>
<line x1="100.2" y1="1183.35" x2="108.4" y2="1183.35" stroke="#3a3a3a" stroke-width="1.3"/>
<line x1="927.9" y1="1183.35" x2="919.6999999999999" y2="1183.35" stroke="#3a3a3a" stroke-width="1.3"/>
<text x="88.3" y="1196.35" text-anchor="end" font-family='"Liberation Serif", serif' font-size="35.5">0.5</text>
<line x1="100.2" y1="1108.90" x2="108.4" y2="1108.90" stroke="#3a3a3a" stroke-width="1.3"/>
<line x1="927.9" y1="1108.90" x2="919.6999999999999" y2="1108.90" stroke="#3a3a3a" stroke-width="1.3"/>
<text x="88.3" y="1121.90" text-anchor="end" font-family='"Liberation Serif", serif' font-size="35.5">1</text>
<line x1="100.2" y1="1034.45" x2="108.4" y2="1034.45" stroke="#3a3a3a" stroke-width="1.3"/>
<line x1="927.9" y1="1034.45" x2="919.6999999999999" y2="1034.45" stroke="#3a3a3a" stroke-width="1.3"/>
<text x="88.3" y="1047.45" text-anchor="end" font-family='"Liberation Serif", serif' font-size="35.5">1.5</text>
<line x1="100.2" y1="960.00" x2="108.4" y2="960.00" stroke="#3a3a3a" stroke-width="1.3"/>
<line x1="927.9" y1="960.00" x2="919.6999999999999" y2="960.00" stroke="#3a3a3a" stroke-width="1.3"/>
<text x="88.3" y="973.00" text-anchor="end" font-family='"Liberation Serif", serif' font-size="35.5">2</text>
<line x1="100.2" y1="885.55" x2="108.4" y2="885.55" stroke="#3a3a3a" stroke-width="1.3"/>
<line x1="927.9" y1="885.55" x2="919.6999999999999" y2="885.55" stroke="#3a3a3a" stroke-width="1.3"/>
<text x="88.3" y="898.55" text-anchor="end" font-family='"Liberation Serif", serif' font-size="35.5">2.5</text>
<line x1="100.2" y1="811.10" x2="108.4" y2="811.10" stroke="#3a3a3a" stroke-width="1.3"/>
<line x1="927.9" y1="811.10" x2="919.6999999999999" y2="811.10" stroke="#3a3a3a" stroke-width="1.3"/>
<text x="88.3" y="824.10" text-anchor="end" font-family='"Liberation Serif", serif' font-size="35.5">3</text>
<line x1="100.2" y1="736.65" x2="108.4" y2="736.65" stroke="#3a3a3a" stroke-width="1.3"/>
<line x1="927.9" y1="736.65" x2="919.6999999999999" y2="736.65" stroke="#3a3a3a" stroke-width="1.3"/>
<text x="88.3" y="749.65" text-anchor="end" font-family='"Liberation Serif", serif' font-size="35.5">3.5</text>
<text x="514.3" y="1345.8" text-anchor="middle" font-family='"Liberation Serif", serif' font-size="39.4">year</text>
<text transform="translate(32.2,997.1) rotate(-90)" text-anchor="middle" font-family='"Liberation Serif", serif' font-size="39.4">Percentage (%)</text>
<polyline points="124.80,1244.00 149.90,1186.60 175.00,1120.70 200.10,1198.50 225.20,1093.90 250.30,1012.80 275.40,1142.80 300.50,897.10 325.60,1095.40 350.70,1068.10 375.80,1032.50 400.90,965.70 426.00,1009.10 451.10,1009.10 476.20,1049.40 501.30,1092.70 526.40,1153.60 551.50,1062.70 576.60,1119.40 601.70,1123.60 626.80,1105.60 651.90,1104.50 677.00,1093.90 702.10,1141.70 727.20,1156.80 752.30,1119.30 777.40,1132.90 802.50,1137.10 827.60,1163.80 852.70,1152.20 877.80,1132.80 902.90,1149.10" fill="none" stroke="#ff0000" stroke-width="2.0" stroke-linejoin="round"/>
<circle cx="124.80" cy="1244.00" r="4.5" fill="#ff0000"/><circle cx="149.90" cy="1186.60" r="4.5" fill="#ff0000"/><circle cx="175.00" cy="1120.70" r="4.5" fill="#ff0000"/><circle cx="200.10" cy="1198.50" r="4.5" fill="#ff0000"/><circle cx="225.20" cy="1093.90" r="4.5" fill="#ff0000"/><circle cx="250.30" cy="1012.80" r="4.5" fill="#ff0000"/><circle cx="275.40" cy="1142.80" r="4.5" fill="#ff0000"/><circle cx="300.50" cy="897.10" r="4.5" fill="#ff0000"/><circle cx="325.60" cy="1095.40" r="4.5" fill="#ff0000"/><circle cx="350.70" cy="1068.10" r="4.5" fill="#ff0000"/><circle cx="375.80" cy="1032.50" r="4.5" fill="#ff0000"/><circle cx="400.90" cy="965.70" r="4.5" fill="#ff0000"/><circle cx="426.00" cy="1009.10" r="4.5" fill="#ff0000"/><circle cx="451.10" cy="1009.10" r="4.5" fill="#ff0000"/><circle cx="476.20" cy="1049.40" r="4.5" fill="#ff0000"/><circle cx="501.30" cy="1092.70" r="4.5" fill="#ff0000"/><circle cx="526.40" cy="1153.60" r="4.5" fill="#ff0000"/><circle cx="551.50" cy="1062.70" r="4.5" fill="#ff0000"/><circle cx="576.60" cy="1119.40" r="4.5" fill="#ff0000"/><circle cx="601.70" cy="1123.60" r="4.5" fill="#ff0000"/><circle cx="626.80" cy="1105.60" r="4.5" fill="#ff0000"/><circle cx="651.90" cy="1104.50" r="4.5" fill="#ff0000"/><circle cx="677.00" cy="1093.90" r="4.5" fill="#ff0000"/><circle cx="702.10" cy="1141.70" r="4.5" fill="#ff0000"/><circle cx="727.20" cy="1156.80" r="4.5" fill="#ff0000"/><circle cx="752.30" cy="1119.30" r="4.5" fill="#ff0000"/><circle cx="777.40" cy="1132.90" r="4.5" fill="#ff0000"/><circle cx="802.50" cy="1137.10" r="4.5" fill="#ff0000"/><circle cx="827.60" cy="1163.80" r="4.5" fill="#ff0000"/><circle cx="852.70" cy="1152.20" r="4.5" fill="#ff0000"/><circle cx="877.80" cy="1132.80" r="4.5" fill="#ff0000"/><circle cx="902.90" cy="1149.10" r="4.5" fill="#ff0000"/>
<polyline points="124.80,1257.50 149.90,1149.70 175.00,1110.00 200.10,1193.70 225.20,1100.00 250.30,970.60 275.40,1152.60 300.50,773.60 325.60,1149.30 350.70,1124.00 375.80,1044.00 400.90,947.00 426.00,922.10 451.10,1012.90 476.20,1002.70 501.30,1083.20 526.40,1161.20 551.50,1075.50 576.60,1084.60 601.70,1108.30 626.80,1114.50 651.90,1138.90 677.00,1118.60 702.10,1160.50 727.20,1202.00 752.30,1185.90 777.40,1177.00 802.50,1193.20 827.60,1188.60 852.70,1196.20 877.80,1199.10 902.90,1191.80" fill="none" stroke="#0000ff" stroke-width="1.4" stroke-dasharray="3.5,2.9" stroke-linejoin="round"/>
<path d="M124.80,1253.17 L128.15,1259.67 L121.45,1259.67 Z" fill="#808080" stroke="#0000ff" stroke-width="1.3" stroke-linejoin="miter"/><path d="M149.90,1145.37 L153.25,1151.87 L146.55,1151.87 Z" fill="#808080" stroke="#0000ff" stroke-width="1.3" stroke-linejoin="miter"/><path d="M175.00,1105.67 L178.35,1112.17 L171.65,1112.17 Z" fill="#808080" stroke="#0000ff" stroke-width="1.3" stroke-linejoin="miter"/><path d="M200.10,1189.37 L203.45,1195.87 L196.75,1195.87 Z" fill="#808080" stroke="#0000ff" stroke-width="1.3" stroke-linejoin="miter"/><path d="M225.20,1095.67 L228.55,1102.17 L221.85,1102.17 Z" fill="#808080" stroke="#0000ff" stroke-width="1.3" stroke-linejoin="miter"/><path d="M250.30,966.27 L253.65,972.77 L246.95,972.77 Z" fill="#808080" stroke="#0000ff" stroke-width="1.3" stroke-linejoin="miter"/><path d="M275.40,1148.27 L278.75,1154.77 L272.05,1154.77 Z" fill="#808080" stroke="#0000ff" stroke-width="1.3" stroke-linejoin="miter"/><path d="M300.50,769.27 L303.85,775.77 L297.15,775.77 Z" fill="#808080" stroke="#0000ff" stroke-width="1.3" stroke-linejoin="miter"/><path d="M325.60,1144.97 L328.95,1151.47 L322.25,1151.47 Z" fill="#808080" stroke="#0000ff" stroke-width="1.3" stroke-linejoin="miter"/><path d="M350.70,1119.67 L354.05,1126.17 L347.35,1126.17 Z" fill="#808080" stroke="#0000ff" stroke-width="1.3" stroke-linejoin="miter"/><path d="M375.80,1039.67 L379.15,1046.17 L372.45,1046.17 Z" fill="#808080" stroke="#0000ff" stroke-width="1.3" stroke-linejoin="miter"/><path d="M400.90,942.67 L404.25,949.17 L397.55,949.17 Z" fill="#808080" stroke="#0000ff" stroke-width="1.3" stroke-linejoin="miter"/><path d="M426.00,917.77 L429.35,924.27 L422.65,924.27 Z" fill="#808080" stroke="#0000ff" stroke-width="1.3" stroke-linejoin="miter"/><path d="M451.10,1008.57 L454.45,1015.07 L447.75,1015.07 Z" fill="#808080" stroke="#0000ff" stroke-width="1.3" stroke-linejoin="miter"/><path d="M476.20,998.37 L479.55,1004.87 L472.85,1004.87 Z" fill="#808080" stroke="#0000ff" stroke-width="1.3" stroke-linejoin="miter"/><path d="M501.30,1078.87 L504.65,1085.37 L497.95,1085.37 Z" fill="#808080" stroke="#0000ff" stroke-width="1.3" stroke-linejoin="miter"/><path d="M526.40,1156.87 L529.75,1163.37 L523.05,1163.37 Z" fill="#808080" stroke="#0000ff" stroke-width="1.3" stroke-linejoin="miter"/><path d="M551.50,1071.17 L554.85,1077.67 L548.15,1077.67 Z" fill="#808080" stroke="#0000ff" stroke-width="1.3" stroke-linejoin="miter"/><path d="M576.60,1080.27 L579.95,1086.77 L573.25,1086.77 Z" fill="#808080" stroke="#0000ff" stroke-width="1.3" stroke-linejoin="miter"/><path d="M601.70,1103.97 L605.05,1110.47 L598.35,1110.47 Z" fill="#808080" stroke="#0000ff" stroke-width="1.3" stroke-linejoin="miter"/><path d="M626.80,1110.17 L630.15,1116.67 L623.45,1116.67 Z" fill="#808080" stroke="#0000ff" stroke-width="1.3" stroke-linejoin="miter"/><path d="M651.90,1134.57 L655.25,1141.07 L648.55,1141.07 Z" fill="#808080" stroke="#0000ff" stroke-width="1.3" stroke-linejoin="miter"/><path d="M677.00,1114.27 L680.35,1120.77 L673.65,1120.77 Z" fill="#808080" stroke="#0000ff" stroke-width="1.3" stroke-linejoin="miter"/><path d="M702.10,1156.17 L705.45,1162.67 L698.75,1162.67 Z" fill="#808080" stroke="#0000ff" stroke-width="1.3" stroke-linejoin="miter"/><path d="M727.20,1197.67 L730.55,1204.17 L723.85,1204.17 Z" fill="#808080" stroke="#0000ff" stroke-width="1.3" stroke-linejoin="miter"/><path d="M752.30,1181.57 L755.65,1188.07 L748.95,1188.07 Z" fill="#808080" stroke="#0000ff" stroke-width="1.3" stroke-linejoin="miter"/><path d="M777.40,1172.67 L780.75,1179.17 L774.05,1179.17 Z" fill="#808080" stroke="#0000ff" stroke-width="1.3" stroke-linejoin="miter"/><path d="M802.50,1188.87 L805.85,1195.37 L799.15,1195.37 Z" fill="#808080" stroke="#0000ff" stroke-width="1.3" stroke-linejoin="miter"/><path d="M827.60,1184.27 L830.95,1190.77 L824.25,1190.77 Z" fill="#808080" stroke="#0000ff" stroke-width="1.3" stroke-linejoin="miter"/><path d="M852.70,1191.87 L856.05,1198.37 L849.35,1198.37 Z" fill="#808080" stroke="#0000ff" stroke-width="1.3" stroke-linejoin="miter"/><path d="M877.80,1194.77 L881.15,1201.27 L874.45,1201.27 Z" fill="#808080" stroke="#0000ff" stroke-width="1.3" stroke-linejoin="miter"/><path d="M902.90,1187.47 L906.25,1193.97 L899.55,1193.97 Z" fill="#808080" stroke="#0000ff" stroke-width="1.3" stroke-linejoin="miter"/>
<polyline points="124.80,1257.70 149.90,1240.10 175.00,1132.20 200.10,1222.30 225.20,1103.00 250.30,1178.60 275.40,1178.60 300.50,1135.40 325.60,1075.20 350.70,1094.70 375.80,1074.30 400.90,1019.00 426.00,1141.60 451.10,1038.60 476.20,1135.80 501.30,1115.00 526.40,1159.50 551.50,1056.70 576.60,1174.50 601.70,1162.30 626.80,1103.20 651.90,1059.80 677.00,1079.30 702.10,1108.90 727.20,1092.30 752.30,998.30 777.40,1036.90 802.50,1027.20 827.60,1115.00 852.70,1063.90 877.80,1006.10 902.90,1055.00" fill="none" stroke="#00ff00" stroke-width="1.4" stroke-dasharray="3.5,2.9" stroke-linejoin="round"/>
<path d="M120.60,1257.70 L126.90,1254.25 L126.90,1261.15 Z" fill="#808080" stroke="#00ff00" stroke-width="1.3" stroke-linejoin="miter"/><path d="M145.70,1240.10 L152.00,1236.65 L152.00,1243.55 Z" fill="#808080" stroke="#00ff00" stroke-width="1.3" stroke-linejoin="miter"/><path d="M170.80,1132.20 L177.10,1128.75 L177.10,1135.65 Z" fill="#808080" stroke="#00ff00" stroke-width="1.3" stroke-linejoin="miter"/><path d="M195.90,1222.30 L202.20,1218.85 L202.20,1225.75 Z" fill="#808080" stroke="#00ff00" stroke-width="1.3" stroke-linejoin="miter"/><path d="M221.00,1103.00 L227.30,1099.55 L227.30,1106.45 Z" fill="#808080" stroke="#00ff00" stroke-width="1.3" stroke-linejoin="miter"/><path d="M246.10,1178.60 L252.40,1175.15 L252.40,1182.05 Z" fill="#808080" stroke="#00ff00" stroke-width="1.3" stroke-linejoin="miter"/><path d="M271.20,1178.60 L277.50,1175.15 L277.50,1182.05 Z" fill="#808080" stroke="#00ff00" stroke-width="1.3" stroke-linejoin="miter"/><path d="M296.30,1135.40 L302.60,1131.95 L302.60,1138.85 Z" fill="#808080" stroke="#00ff00" stroke-width="1.3" stroke-linejoin="miter"/><path d="M321.40,1075.20 L327.70,1071.75 L327.70,1078.65 Z" fill="#808080" stroke="#00ff00" stroke-width="1.3" stroke-linejoin="miter"/><path d="M346.50,1094.70 L352.80,1091.25 L352.80,1098.15 Z" fill="#808080" stroke="#00ff00" stroke-width="1.3" stroke-linejoin="miter"/><path d="M371.60,1074.30 L377.90,1070.85 L377.90,1077.75 Z" fill="#808080" stroke="#00ff00" stroke-width="1.3" stroke-linejoin="miter"/><path d="M396.70,1019.00 L403.00,1015.55 L403.00,1022.45 Z" fill="#808080" stroke="#00ff00" stroke-width="1.3" stroke-linejoin="miter"/><path d="M421.80,1141.60 L428.10,1138.15 L428.10,1145.05 Z" fill="#808080" stroke="#00ff00" stroke-width="1.3" stroke-linejoin="miter"/><path d="M446.90,1038.60 L453.20,1035.15 L453.20,1042.05 Z" fill="#808080" stroke="#00ff00" stroke-width="1.3" stroke-linejoin="miter"/><path d="M472.00,1135.80 L478.30,1132.35 L478.30,1139.25 Z" fill="#808080" stroke="#00ff00" stroke-width="1.3" stroke-linejoin="miter"/><path d="M497.10,1115.00 L503.40,1111.55 L503.40,1118.45 Z" fill="#808080" stroke="#00ff00" stroke-width="1.3" stroke-linejoin="miter"/><path d="M522.20,1159.50 L528.50,1156.05 L528.50,1162.95 Z" fill="#808080" stroke="#00ff00" stroke-width="1.3" stroke-linejoin="miter"/><path d="M547.30,1056.70 L553.60,1053.25 L553.60,1060.15 Z" fill="#808080" stroke="#00ff00" stroke-width="1.3" stroke-linejoin="miter"/><path d="M572.40,1174.50 L578.70,1171.05 L578.70,1177.95 Z" fill="#808080" stroke="#00ff00" stroke-width="1.3" stroke-linejoin="miter"/><path d="M597.50,1162.30 L603.80,1158.85 L603.80,1165.75 Z" fill="#808080" stroke="#00ff00" stroke-width="1.3" stroke-linejoin="miter"/><path d="M622.60,1103.20 L628.90,1099.75 L628.90,1106.65 Z" fill="#808080" stroke="#00ff00" stroke-width="1.3" stroke-linejoin="miter"/><path d="M647.70,1059.80 L654.00,1056.35 L654.00,1063.25 Z" fill="#808080" stroke="#00ff00" stroke-width="1.3" stroke-linejoin="miter"/><path d="M672.80,1079.30 L679.10,1075.85 L679.10,1082.75 Z" fill="#808080" stroke="#00ff00" stroke-width="1.3" stroke-linejoin="miter"/><path d="M697.90,1108.90 L704.20,1105.45 L704.20,1112.35 Z" fill="#808080" stroke="#00ff00" stroke-width="1.3" stroke-linejoin="miter"/><path d="M723.00,1092.30 L729.30,1088.85 L729.30,1095.75 Z" fill="#808080" stroke="#00ff00" stroke-width="1.3" stroke-linejoin="miter"/><path d="M748.10,998.30 L754.40,994.85 L754.40,1001.75 Z" fill="#808080" stroke="#00ff00" stroke-width="1.3" stroke-linejoin="miter"/><path d="M773.20,1036.90 L779.50,1033.45 L779.50,1040.35 Z" fill="#808080" stroke="#00ff00" stroke-width="1.3" stroke-linejoin="miter"/><path d="M798.30,1027.20 L804.60,1023.75 L804.60,1030.65 Z" fill="#808080" stroke="#00ff00" stroke-width="1.3" stroke-linejoin="miter"/><path d="M823.40,1115.00 L829.70,1111.55 L829.70,1118.45 Z" fill="#808080" stroke="#00ff00" stroke-width="1.3" stroke-linejoin="miter"/><path d="M848.50,1063.90 L854.80,1060.45 L854.80,1067.35 Z" fill="#808080" stroke="#00ff00" stroke-width="1.3" stroke-linejoin="miter"/><path d="M873.60,1006.10 L879.90,1002.65 L879.90,1009.55 Z" fill="#808080" stroke="#00ff00" stroke-width="1.3" stroke-linejoin="miter"/><path d="M898.70,1055.00 L905.00,1051.55 L905.00,1058.45 Z" fill="#808080" stroke="#00ff00" stroke-width="1.3" stroke-linejoin="miter"/>
<line x1="708.4" y1="780.2" x2="760.7" y2="780.2" stroke="#ff0000" stroke-width="2"/><circle cx="734.80" cy="780.20" r="4.5" fill="#ff0000"/>
<line x1="708.4" y1="820.5" x2="760.7" y2="820.5" stroke="#0000ff" stroke-width="1.4" stroke-dasharray="3.0,3.0"/><path d="M734.80,816.17 L738.15,822.67 L731.45,822.67 Z" fill="#808080" stroke="#0000ff" stroke-width="1.3" stroke-linejoin="miter"/>
<line x1="708.4" y1="861.6" x2="760.7" y2="861.6" stroke="#00ff00" stroke-width="1.4" stroke-dasharray="3.0,3.0"/><path d="M730.60,861.60 L736.90,858.15 L736.90,865.05 Z" fill="#808080" stroke="#00ff00" stroke-width="1.3" stroke-linejoin="miter"/>
<text x="765.6" y="793.60" font-family='"Liberation Serif", serif' font-size="36.5">Total</text>
<text x="765.6" y="833.80" font-family='"Liberation Serif", serif' font-size="35.65">Arctic</text>
<text x="765.6" y="874.30" font-family='"Liberation Serif", serif' font-size="35.6">Antarctic</text>
</svg>
</body></html>
